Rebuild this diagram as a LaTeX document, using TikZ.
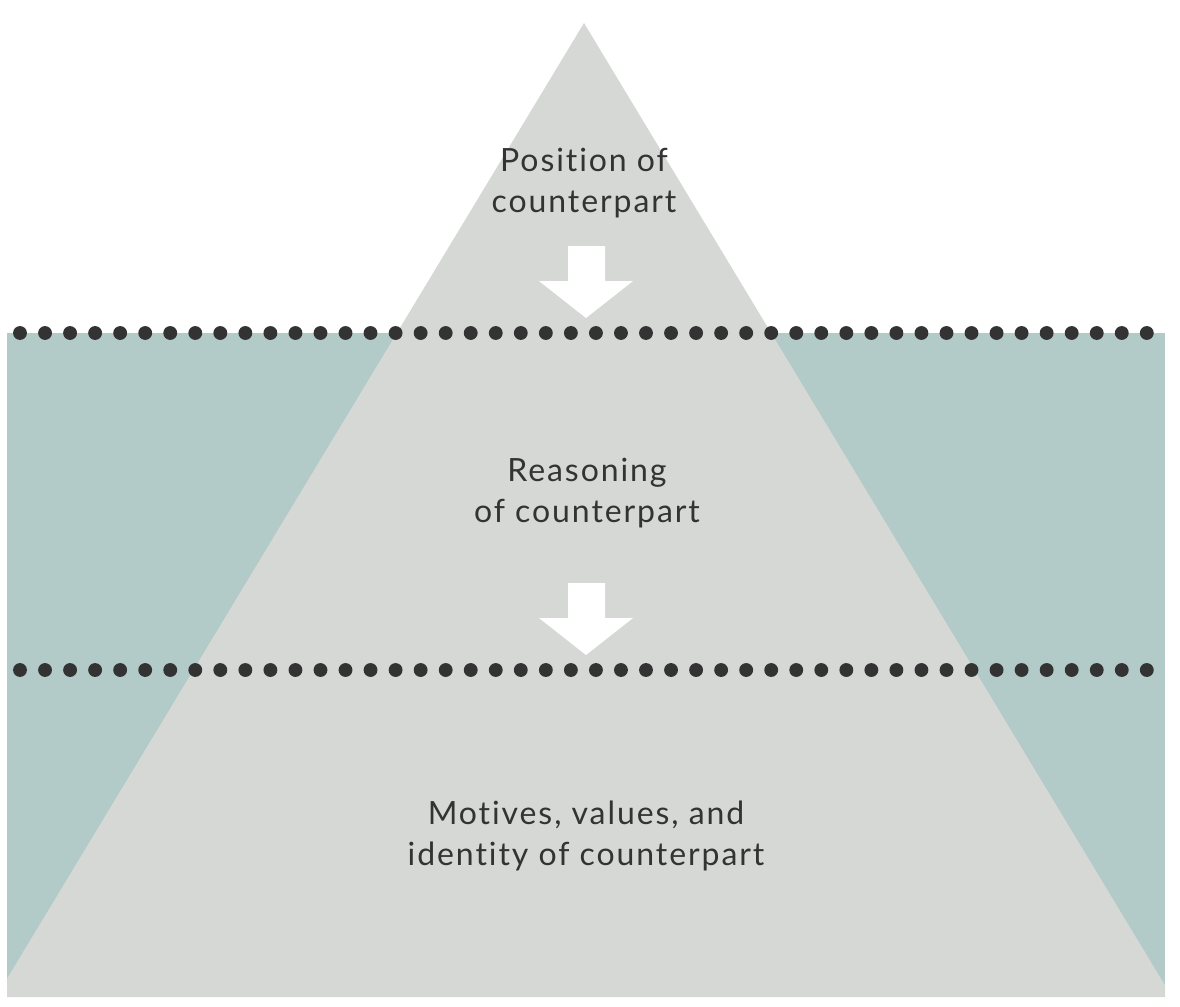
\documentclass[tikz,border=0pt]{standalone}
\usepackage{fontspec}
\setmainfont[LetterSpace=6, Ligatures=NoCommon]{Lato}
\definecolor{ice}{HTML}{D6D8D6}
\definecolor{sea}{HTML}{B2CAC8}
\definecolor{ink}{HTML}{333333}
\tikzset{
  layer text/.style={text=ink, align=center, inner sep=0pt, font=\fontsize{24}{31}\selectfont},
  dotline/.style={fill=ink},
  downarrow/.style={fill=white}
}

\begin{document}
\begin{tikzpicture}[x=0.75pt, y=-0.75pt]
       \useasboundingbox (0,0) rectangle (1180,1006);
       \fill[sea] (7,333) rectangle (1165,997);
       \begin{scope}
         \clip (7,0) rectangle (1165,997);
         \fill[ice] (584,23) -- (1172,997) -- (-4,997) -- cycle;
       \end{scope}
       \foreach \y in {333,670}
         \foreach \k in {0,...,45}
           \fill[dotline] (20+25.04*\k,\y) circle (5.2pt);
       \foreach \t in {246,583}
         \fill[downarrow] (568,\t) -- (605,\t) -- (605,\t+35) -- (633,\t+35)
           -- (586,\t+72) -- (539,\t+35) -- (568,\t+35) -- cycle;
       \node[layer text] (position)  at (584,183) {Position of\\counterpart};
       \node[layer text] (reasoning) at (587,493) {Reasoning\\of counterpart};
       \node[layer text] (motives)   at (586,836) {Motives, values, and\\identity of counterpart};
    \end{tikzpicture}
\end{document}
